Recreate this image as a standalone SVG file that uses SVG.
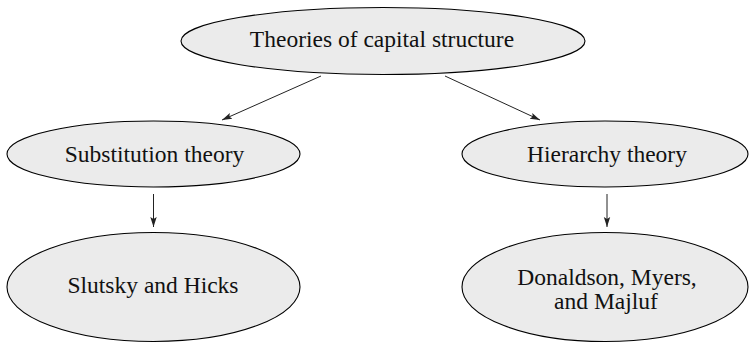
<svg xmlns="http://www.w3.org/2000/svg" width="749" height="343" viewBox="0 0 749 343">
<style>
.node ellipse{fill:#ebebeb;stroke:#000;stroke-width:1.1}
.node text{font-family:"Liberation Serif","Times New Roman",serif;font-size:23.5px;fill:#111;text-anchor:middle}
.edge{stroke:#222;stroke-width:1;fill:none;marker-end:url(#arr)}
</style>
<defs>
<marker id="arr" viewBox="0 0 10 8" refX="10" refY="4" markerWidth="10" markerHeight="8" markerUnits="userSpaceOnUse" orient="auto">
<path d="M0,0.8 L10,4 L0,7.2 L2,4 z" fill="#222"/>
</marker>
</defs>
<rect width="749" height="343" fill="#fff"/>
<g id="connectors">
<line class="edge" x1="321" y1="76" x2="222" y2="120"/>
<line class="edge" x1="445" y1="76" x2="540" y2="120"/>
<line class="edge" x1="153.5" y1="194" x2="153.5" y2="227"/>
<line class="edge" x1="607" y1="194" x2="607" y2="227"/>
</g>
<g id="theories" class="node">
<ellipse cx="383" cy="41" rx="202" ry="33.5"/>
<text x="382" y="47">Theories of capital structure</text>
</g>
<g id="substitution" class="node">
<ellipse cx="153.5" cy="154" rx="146.5" ry="33"/>
<text x="154.5" y="162">Substitution theory</text>
</g>
<g id="hierarchy" class="node">
<ellipse cx="605" cy="154" rx="143" ry="33"/>
<text x="607" y="162">Hierarchy theory</text>
</g>
<g id="slutsky" class="node">
<ellipse cx="153.5" cy="287" rx="146.5" ry="54.5"/>
<text x="153" y="293">Slutsky and Hicks</text>
</g>
<g id="donaldson" class="node">
<ellipse cx="605" cy="287" rx="143" ry="54.5"/>
<text x="607" y="285">Donaldson, Myers,</text>
<text x="606" y="309">and Majluf</text>
</g>
</svg>
